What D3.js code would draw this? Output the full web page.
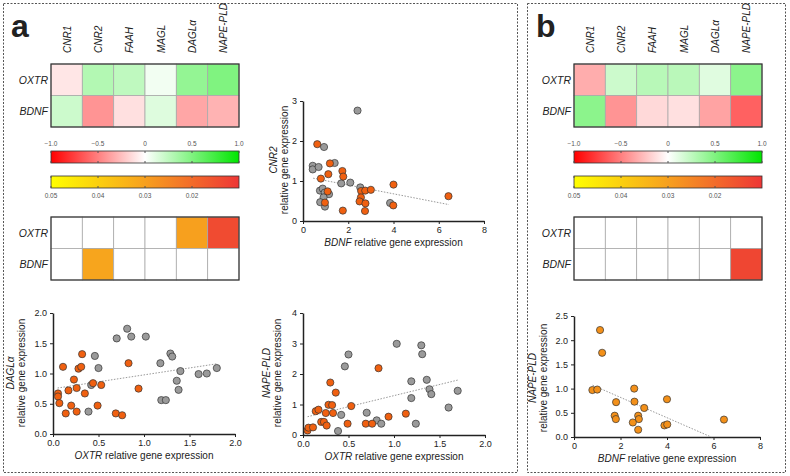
<!DOCTYPE html>
<html><head><meta charset="utf-8">
<script src="https://cdn.jsdelivr.net/npm/d3@7"></script>
<style>body{margin:0;background:#fff}text{font-family:"Liberation Sans",Arial,sans-serif;fill:#222}</style>
</head><body><svg id="c" width="790" height="476"></svg>
<script>
const genes = ["CNR1", "CNR2", "FAAH", "MAGL", "DAGLα", "NAPE-PLD"];
const rows = ["OXTR", "BDNF"];
// correlation coefficients
const corrA = [[-0.1, 0.3, 0.25, 0.05, 0.42, 0.5], [0.2, -0.42, -0.12, 0.13, -0.35, -0.3]];
const corrB = [[-0.32, 0.2, 0.28, 0.27, 0.12, 0.45], [0.45, -0.42, -0.15, -0.12, -0.36, -0.62]];
// p-values (null = not significant)
const pA = [[null, null, null, null, 0.03, 0.014], [null, 0.031, null, null, null, null]];
const pB = [[null, null, null, null, null, null], [null, null, null, null, null, 0.013]];
const corrTicks = [-1.0, -0.5, 0, 0.5, 1.0];
const pTicks = [0.05, 0.04, 0.03, 0.02];

// CNR2 vs BDNF
const cnr2Gray = [[2.41,2.76],[0.93,1.85],[0.43,1.38],[0.43,1.29],[0.69,1.35],[1.40,1.45],[1.69,0.94],[2.09,0.96],[2.53,0.84],[0.75,0.76],[0.87,0.81],[0.96,0.71],[1.15,0.67],[0.91,0.59],[0.76,0.47],[0.97,0.36],[3.85,0.45]];
const cnr2Orange = [[0.63,1.92],[0.79,1.06],[1.19,1.44],[1.12,1.17],[1.74,1.25],[1.78,1.11],[1.09,0.74],[0.97,0.46],[1.76,0.26],[2.57,0.75],[2.75,0.76],[3.0,0.78],[2.56,0.59],[2.5,0.49],[2.76,0.44],[2.74,0.25],[4.0,0.91],[3.99,0.39],[6.43,0.62]];
const cnr2Trend = [[0.45,1.07],[6.45,0.41]];
// DAGLa vs OXTR
const daglGray = [[0.815,1.74],[0.70,1.58],[0.86,1.61],[1.02,1.61],[0.46,1.29],[0.50,1.09],[0.42,0.81],[0.39,0.37],[1.18,1.17],[1.29,1.33],[1.31,1.28],[1.36,0.88],[1.38,0.73],[1.40,1.04],[1.19,0.56],[1.24,0.56],[1.60,0.99],[1.69,1.00],[1.80,1.09]];
const daglOrange = [[0.055,0.67],[0.055,0.62],[0.07,0.51],[0.11,1.11],[0.14,0.34],[0.17,0.72],[0.20,0.47],[0.23,0.90],[0.26,0.76],[0.26,0.37],[0.28,1.08],[0.31,1.11],[0.32,1.32],[0.35,0.67],[0.44,0.84],[0.49,0.47],[0.53,0.81],[0.83,1.17],[0.94,0.75],[0.69,0.34],[0.76,0.31]];
const daglTrend = [[0.05,0.76],[1.8,1.16]];
// NAPE-PLD vs OXTR
const napeGray = [[1.03,2.99],[1.30,2.94],[1.31,2.65],[0.50,2.64],[0.46,2.25],[1.36,1.81],[1.19,1.76],[1.39,1.50],[1.41,1.34],[1.19,1.21],[1.70,1.45],[1.60,0.90],[0.42,0.66],[0.70,0.73],[0.81,0.48],[0.86,0.37],[1.24,0.37],[0.385,0.13]];
const napeOrange = [[0.05,0.15],[0.06,0.24],[0.11,0.25],[0.14,0.78],[0.17,0.83],[0.20,0.43],[0.23,0.43],[0.26,0.31],[0.25,0.72],[0.28,0.99],[0.32,0.98],[0.33,0.72],[0.30,1.72],[0.36,1.39],[0.49,0.37],[0.53,0.95],[0.69,0.37],[0.76,0.37],[0.83,2.19],[0.94,0.60],[1.13,0.70]];
const napeTrend = [[0.05,0.6],[1.7,1.8]];
// panel b NAPE-PLD vs BDNF
const napeB = [[1.12,2.21],[1.21,1.74],[0.79,0.97],[1.0,0.98],[2.59,1.0],[1.81,0.72],[2.6,0.73],[3.02,0.60],[4.0,0.78],[1.75,0.44],[1.80,0.37],[2.76,0.44],[2.79,0.37],[2.53,0.30],[2.76,0.15],[3.89,0.24],[4.01,0.26],[6.45,0.36]];
const napeBTrend = [[0.8,1.07],[5.9,0.0]];

const svg = d3.select("#c");
const corrColor = d3.scaleLinear().domain([-1, 0, 1]).range(["#ff0000", "#ffffff", "#00e600"]);
const pColor = d3.scaleLinear().domain([0.05, 0.03, 0.01]).range(["#ffff00", "#f7a01e", "#ee3636"]);

// dashed frames
svg.append("rect").attr("x", 3.5).attr("y", 3.5).attr("width", 514).attr("height", 469)
  .attr("fill", "none").attr("stroke", "#555").attr("stroke-dasharray", "2,1.5");
svg.append("rect").attr("x", 527.5).attr("y", 3.5).attr("width", 258).attr("height", 469)
  .attr("fill", "none").attr("stroke", "#555").attr("stroke-dasharray", "2,1.5");
svg.append("text").attr("x", 11).attr("y", 37).style("font-size", "32px").style("font-weight", "bold").text("a");
svg.append("text").attr("x", 536).attr("y", 37).style("font-size", "32px").style("font-weight", "bold").text("b");

function heatmap(x0, y0, vals, colorFn, colLabels) {
  const x = d3.scaleBand().domain(genes).range([x0, x0 + 188]);
  const y = d3.scaleBand().domain(rows).range([y0, y0 + 63]);
  const g = svg.append("g");
  rows.forEach((r, i) => genes.forEach((c, j) => {
    const v = vals[i][j];
    g.append("rect").attr("x", x(c)).attr("y", y(r)).attr("width", x.bandwidth()).attr("height", y.bandwidth())
      .attr("fill", v == null ? "#fff" : colorFn(v)).attr("stroke", "#aaa").attr("stroke-width", 0.8);
  }));
  g.append("rect").attr("x", x0).attr("y", y0).attr("width", 188).attr("height", 63)
    .attr("fill", "none").attr("stroke", "#333").attr("stroke-width", 1.2);
  rows.forEach(r => g.append("text").attr("x", x0 - 3).attr("y", y(r) + y.bandwidth() / 2 + 4)
    .attr("text-anchor", "end").style("font-size", "10.5px").style("font-style", "italic").text(r));
  if (colLabels) genes.forEach(c => g.append("text")
    .attr("transform", `translate(${x(c) + x.bandwidth() / 2 + 4},53) rotate(-90)`)
    .style("font-size", "10px").style("font-style", "italic").text(c));
}

function colorbars(x0, id) {
  const defs = svg.append("defs");
  const g1 = defs.append("linearGradient").attr("id", "gc" + id);
  d3.range(0, 1.001, 0.1).forEach(t => g1.append("stop").attr("offset", t).attr("stop-color", corrColor(-1 + 2 * t)));
  const g2 = defs.append("linearGradient").attr("id", "gp" + id);
  d3.range(0, 1.001, 0.1).forEach(t => g2.append("stop").attr("offset", t).attr("stop-color", pColor(0.05 - 0.04 * t)));
  const xc = d3.scaleLinear().domain([-1, 1]).range([x0, x0 + 188]);
  const xp = d3.scaleLinear().domain([0.05, 0.01]).range([x0, x0 + 188]);
  svg.append("rect").attr("x", x0).attr("y", 151).attr("width", 188).attr("height", 12)
    .attr("fill", `url(#gc${id})`).attr("stroke", "#333").attr("stroke-width", 0.8);
  svg.append("rect").attr("x", x0).attr("y", 176).attr("width", 188).attr("height", 12)
    .attr("fill", `url(#gp${id})`).attr("stroke", "#333").attr("stroke-width", 0.8);
  corrTicks.forEach(t => {
    svg.append("text").attr("x", xc(t)).attr("y", 146).attr("text-anchor", "middle")
      .style("font-size", "6.5px").style("fill", "#555").text(t === 0 ? "0" : d3.format(".1f")(t));
    svg.append("line").attr("x1", xc(t)).attr("x2", xc(t)).attr("y1", 151).attr("y2", 153).attr("stroke", "#555");
    svg.append("line").attr("x1", xc(t)).attr("x2", xc(t)).attr("y1", 161).attr("y2", 163).attr("stroke", "#555");
  });
  pTicks.forEach(t => {
    svg.append("text").attr("x", xp(t)).attr("y", 198).attr("text-anchor", "middle")
      .style("font-size", "6.5px").style("fill", "#555").text(d3.format(".2f")(t));
    svg.append("line").attr("x1", xp(t)).attr("x2", xp(t)).attr("y1", 176).attr("y2", 178).attr("stroke", "#555");
    svg.append("line").attr("x1", xp(t)).attr("x2", xp(t)).attr("y1", 186).attr("y2", 188).attr("stroke", "#555");
  });
}

function scatter(o) {
  const x = d3.scaleLinear().domain(o.xd).range(o.xr);
  const y = d3.scaleLinear().domain(o.yd).range(o.yr);
  const g = svg.append("g");
  g.append("g").attr("transform", `translate(0,${o.yr[0]})`)
    .call(d3.axisBottom(x).tickValues(o.xt).tickFormat(o.xf).tickSize(3).tickSizeOuter(0));
  g.append("g").attr("transform", `translate(${o.xr[0]},0)`)
    .call(d3.axisLeft(y).tickValues(o.yt).tickFormat(o.yf).tickSize(3).tickSizeOuter(0));
  g.selectAll(".domain").attr("stroke", "#222").attr("stroke-width", 1.5);
  g.selectAll(".tick line").attr("stroke", "#222");
  g.selectAll(".tick text").style("font-size", "9px").style("fill", "#222").style("font-family", "Liberation Sans, Arial, sans-serif");
  g.append("line").attr("x1", x(o.trend[0][0])).attr("y1", y(o.trend[0][1]))
    .attr("x2", x(o.trend[1][0])).attr("y2", y(o.trend[1][1]))
    .attr("stroke", "#999").attr("stroke-dasharray", "1.5,1.5");
  (o.sets).forEach(s => g.selectAll(null).data(s.pts).join("circle")
    .attr("cx", d => x(d[0])).attr("cy", d => y(d[1])).attr("r", 3.6)
    .attr("fill", s.color).attr("stroke", "#333").attr("stroke-width", 0.7));
  const xm = (o.xr[0] + o.xr[1]) / 2;
  const t = g.append("text").attr("x", xm).attr("y", o.yr[0] + 25).attr("text-anchor", "middle").style("font-size", "10px");
  t.append("tspan").style("font-style", "italic").text(o.xlab);
  t.append("tspan").text(" relative gene expression");
  const ym = o.ylabY;
  g.append("text").attr("transform", `translate(${o.ylabX},${ym}) rotate(-90)`).attr("text-anchor", "middle")
    .style("font-size", "10px").style("font-style", "italic").text(o.ylab);
  g.append("text").attr("transform", `translate(${o.ylabX + 11},${ym}) rotate(-90)`).attr("text-anchor", "middle")
    .style("font-size", "10px").text("relative gene expression");
}

const gray = "#9a9a9a", orA = "#f06010", orB = "#f39019";
heatmap(51, 64, corrA, corrColor, true);
colorbars(51, "a");
heatmap(51, 217, pA, pColor, false);
heatmap(574, 64, corrB, corrColor, true);
colorbars(574, "b");
heatmap(574, 217, pB, pColor, false);

scatter({ xd: [0, 8], xr: [303, 484], yd: [0, 3], yr: [221, 101], xt: [0, 2, 4, 6, 8], yt: [0, 1, 2, 3],
  xf: d3.format("d"), yf: d3.format("d"), trend: cnr2Trend, xlab: "BDNF", ylab: "CNR2", ylabX: 277, ylabY: 160,
  sets: [{ pts: cnr2Gray, color: gray }, { pts: cnr2Orange, color: orA }] });
scatter({ xd: [0, 2], xr: [53, 235], yd: [0, 2], yr: [434, 313], xt: [0, 0.5, 1, 1.5, 2], yt: [0, 0.5, 1, 1.5, 2],
  xf: d3.format(".1f"), yf: d3.format(".1f"), trend: daglTrend, xlab: "OXTR", ylab: "DAGLα", ylabX: 14, ylabY: 373,
  sets: [{ pts: daglGray, color: gray }, { pts: daglOrange, color: orA }] });
scatter({ xd: [0, 2], xr: [303, 485], yd: [0, 4], yr: [435, 313], xt: [0, 0.5, 1, 1.5, 2], yt: [0, 1, 2, 3, 4],
  xf: d3.format(".1f"), yf: d3.format("d"), trend: napeTrend, xlab: "OXTR", ylab: "NAPE-PLD", ylabX: 270, ylabY: 373,
  sets: [{ pts: napeGray, color: gray }, { pts: napeOrange, color: orA }] });
scatter({ xd: [0, 8], xr: [574, 760], yd: [0, 2.5], yr: [437, 316], xt: [0, 2, 4, 6, 8], yt: [0, 0.5, 1, 1.5, 2, 2.5],
  xf: d3.format("d"), yf: d3.format(".1f"), trend: napeBTrend, xlab: "BDNF", ylab: "NAPE-PLD", ylabX: 536, ylabY: 378,
  sets: [{ pts: napeB, color: orB }] });
</script></body></html>
